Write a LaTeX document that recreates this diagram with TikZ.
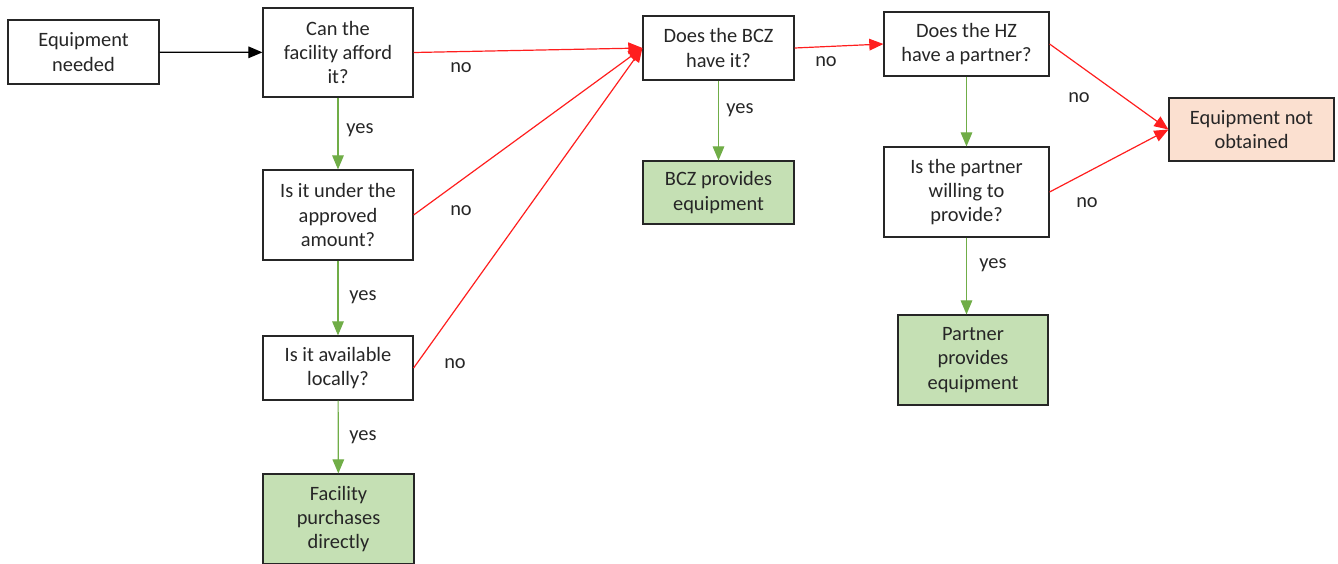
\documentclass[tikz,border=0pt]{standalone}
\usepackage{fontspec}
\setmainfont{Carlito}
\usetikzlibrary{positioning,arrows}
\definecolor{yesgreen}{RGB}{112,173,71}
\definecolor{okfill}{RGB}{197,224,180}
\definecolor{failfill}{RGB}{251,224,208}
\definecolor{nored}{RGB}{255,30,30}

\begin{document}
\begin{tikzpicture}[x=0.5pt, y=-0.5pt,
    step box/.style={rectangle, draw=black!85, line width=0.6pt, fill=white,
        align=center, inner sep=0pt, text=black!85,
        font=\fontsize{10.2}{12.2}\selectfont},
    ok box/.style={step box, fill=okfill},
    fail box/.style={step box, fill=failfill},
    answer/.style={text=black!85, inner sep=1pt, font=\fontsize{10.2}{12.2}\selectfont},
    yes line/.style={draw=yesgreen, line width=0.6pt, ->, >=triangle 45},
    no line/.style={draw=nored, line width=0.6pt, ->, >=triangle 45}
]
\useasboundingbox (0,0) rectangle (1338,563);

% left column
\node (need) [step box, minimum width=75.5pt, minimum height=32pt] at (83.5,52) {Equipment\\needed};
\node (afford) [step box, minimum width=75pt, minimum height=44.5pt] at (338,52.5) {Can the\\facility afford\\it?};
\node (amount) [step box, minimum width=75pt, minimum height=45pt] at (338,215) {Is it under the\\approved\\amount?};
\node (local) [step box, minimum width=75pt, minimum height=32pt] at (338,368) {Is it available\\locally?};
\node (purchase) [ok box, minimum width=75.5pt, minimum height=45pt] at (338.5,519) {Facility\\purchases\\directly};

% BCZ
\node (bcz) [step box, minimum width=75.5pt, minimum height=32pt] at (718.5,48) {Does the BCZ\\have it?};
\node (bczgives) [ok box, minimum width=75.5pt, minimum height=31.5pt] at (718.5,192.5) {BCZ provides\\equipment};

% HZ partner
\node (hz) [step box, minimum width=82.5pt, minimum height=32pt] at (966.5,44) {Does the HZ\\have a partner?};
\node (willing) [step box, minimum width=82.5pt, minimum height=45pt] at (966.5,192) {Is the partner\\willing to\\provide?};
\node (partner) [ok box, minimum width=75pt, minimum height=45pt] at (973,360) {Partner\\provides\\equipment};
\node (nothing) [fail box, minimum width=82.5pt, minimum height=31.5pt] at (1251.5,129.5) {Equipment not\\obtained};

% connectors
\draw [line width=0.6pt, ->, >=triangle 45] (need) -- (afford);
\draw [no line] (afford.east) -- (bcz.west);
\draw [no line] (amount.east) -- (bcz.west);
\draw [no line] (local.east) -- (bcz.west);
\draw [no line] (bcz.east) -- (hz.west);
\draw [no line] (hz.east) -- (nothing.west);
\draw [no line] (willing.east) -- (nothing.west);

\draw [yes line] (afford) -- (amount);
\draw [yes line] (amount) -- (local);
\draw [yes line] (local) -- (purchase);
\draw [yes line] (bcz) -- (bczgives);
\draw [yes line] (hz) -- (willing);
\draw [yes line] (willing.south) -- (willing.south |- partner.north);

% answers
\node (no1) [answer] at (461,68) {no};
\node (yes1) [answer] at (360,130) {yes};
\node (no2) [answer] at (461,211) {no};
\node (yes2) [answer] at (363,297) {yes};
\node (no3) [answer] at (455,364) {no};
\node (yes3) [answer] at (363,437) {yes};
\node (no4) [answer] at (826,62) {no};
\node (yes4) [answer] at (740,110) {yes};
\node (no5) [answer] at (1079,98) {no};
\node (no6) [answer] at (1087,203) {no};
\node (yes5) [answer] at (993,265) {yes};

\end{tikzpicture}
\end{document}
